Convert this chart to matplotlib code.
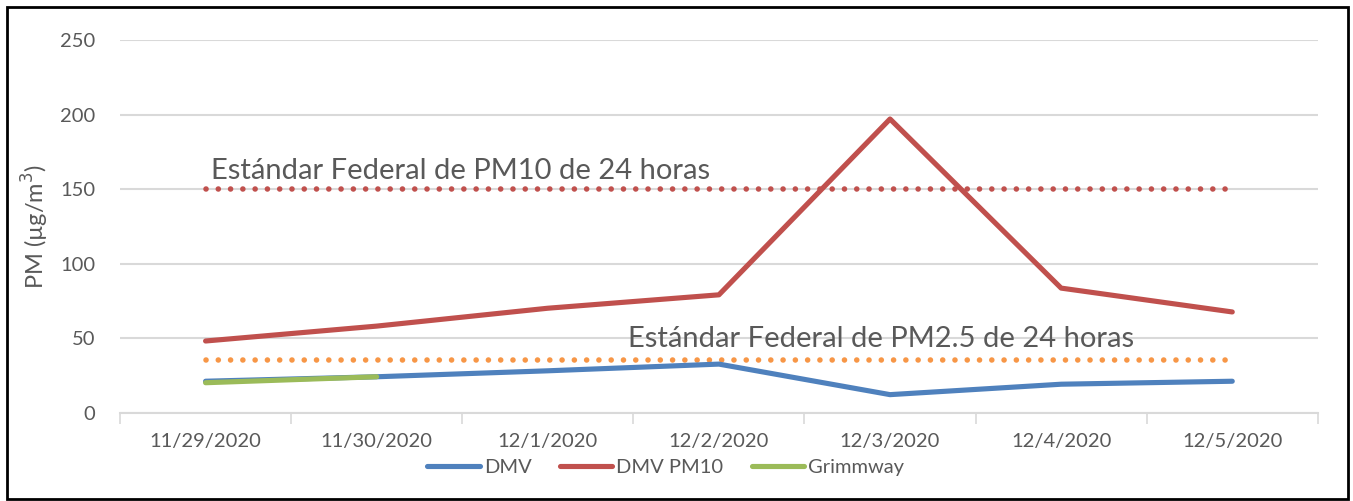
import numpy as np
import matplotlib.pyplot as plt
from matplotlib.patches import Rectangle

dates = ['11/29/2020', '11/30/2020', '12/1/2020', '12/2/2020', '12/3/2020', '12/4/2020', '12/5/2020']
dmv = [21, 24, 28, 32.5, 12, 19, 21]
dmv_pm10 = [48, 58, 70, 79, 197, 83.5, 67.5]
grimmway = [20, 24]
std_pm10 = 150
std_pm25 = 35

plt.rcParams['font.family'] = ['Lato', 'DejaVu Sans']
txt = '#595959'

fig = plt.figure(figsize=(13.53, 5.01), dpi=100)
ax = fig.add_axes([0.0887, 0.1766, 0.8853, 0.7435])

x = np.arange(len(dates))
ax.plot(x, dmv, color='#4f81bd', lw=3.7, solid_capstyle='round', label='DMV', zorder=3)
ax.plot(x, dmv_pm10, color='#c0504d', lw=3.7, solid_capstyle='round', label='DMV PM10', zorder=3)
ax.plot(x[:len(grimmway)], grimmway, color='#9bbb59', lw=3.7, solid_capstyle='round', label='Grimmway', zorder=4)

dots = (0, (0.01, 2.2))
ax.plot(x, [std_pm10] * len(x), color='#c0504d', lw=4.0, ls=dots, dash_capstyle='round', zorder=2)
ax.plot(x, [std_pm25] * len(x), color='#f79646', lw=4.0, ls=dots, dash_capstyle='round', zorder=2)

ax.text(0.03, 157, 'Estándar Federal de PM10 de 24 horas', fontsize=21, color=txt, va='baseline')
ax.text(2.47, 44, 'Estándar Federal de PM2.5 de 24 horas', fontsize=21, color=txt, va='baseline')

ax.set_xlim(-0.5, len(dates) - 0.5)
ax.set_ylim(0, 250)
ax.set_yticks(np.arange(0, 251, 50))
ax.set_xticks(x)
ax.set_xticklabels(dates)
ax.set_xticks(np.arange(-0.5, len(dates), 1), minor=True)
ax.tick_params(axis='x', which='major', length=0, pad=15, labelsize=14.5, labelcolor=txt)
ax.tick_params(axis='x', which='minor', length=8, width=1.2, color='#d9d9d9')
ax.tick_params(axis='y', length=0, pad=18, labelsize=14.5, labelcolor=txt)
ax.grid(axis='y', color='#d9d9d9', lw=1.5, zorder=0)
ax.set_axisbelow(True)
for s in ['top', 'right', 'left']:
    ax.spines[s].set_visible(False)
ax.spines['bottom'].set_color('#d9d9d9')
ax.spines['bottom'].set_linewidth(1.5)
ax.set_ylabel('PM (µg/m$^3$)', fontsize=17, color=txt, labelpad=6)

fig.legend(loc='center', bbox_to_anchor=(0.492, 0.066), ncol=3, frameon=False,
           fontsize=14.5, labelcolor=txt, handlelength=2.6, handletextpad=0.2,
           columnspacing=1.4)

fig.patches.append(Rectangle((7 / 1353, 2 / 501), 1341 / 1353, 492 / 501, transform=fig.transFigure,
                             fill=False, edgecolor='black', lw=2))

fig.savefig('out.png', dpi=100)
